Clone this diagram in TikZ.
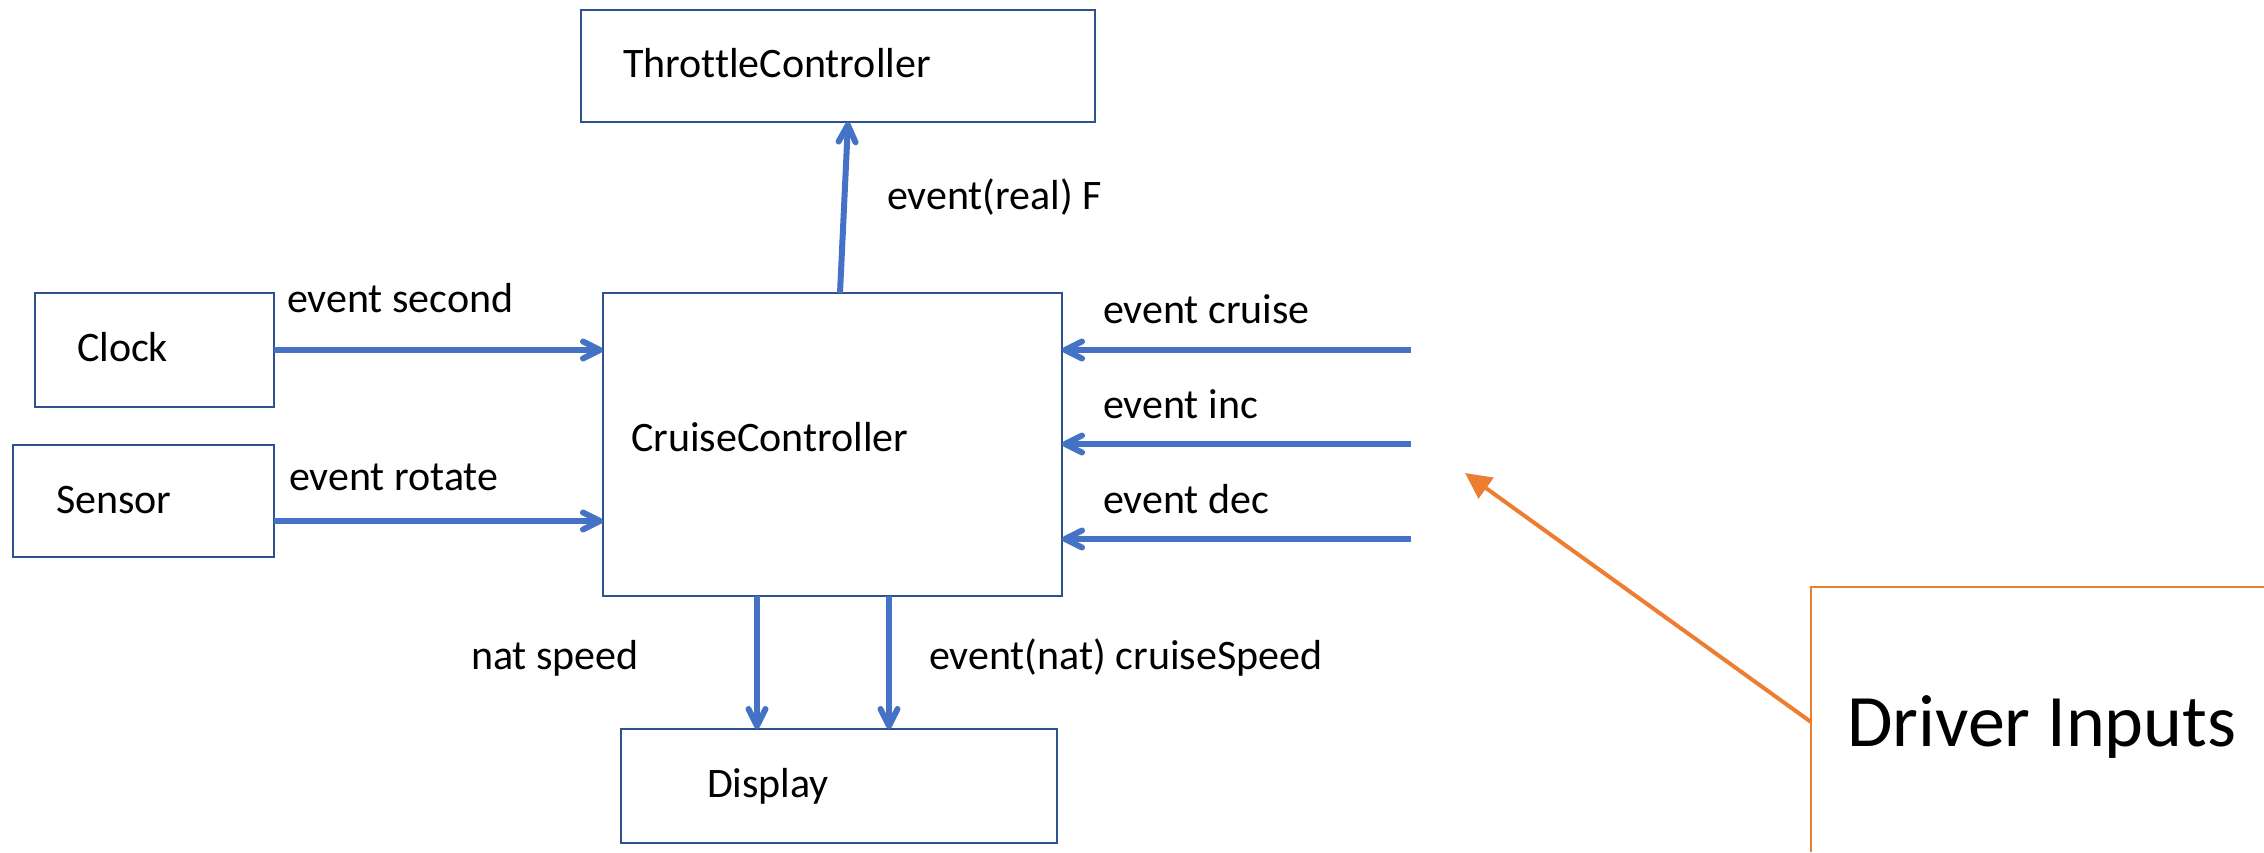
\documentclass[tikz,border=0pt]{standalone}
\usepackage{fontspec}
\setmainfont[Ligatures={NoCommon,NoContextual}]{Carlito}
\usetikzlibrary{arrows.meta,calc}
\definecolor{boxblue}{HTML}{2F528F}
\definecolor{arrblue}{HTML}{4472C4}
\definecolor{orng}{HTML}{ED7D31}
\tikzset{
  box/.style={draw=boxblue, line width=1.3pt, inner sep=0pt, outer sep=0pt, rectangle},
  lbl/.style={inner sep=0pt, outer sep=0pt, anchor=base west, font=\fontsize{21pt}{25pt}\selectfont},
  biglbl/.style={inner sep=0pt, outer sep=0pt, anchor=base west, font=\fontsize{37pt}{44pt}\selectfont},
  arr/.style={draw=arrblue, line width=3pt, -{Straight Barb[length=8.5pt,width=8.5pt,round]}},
  oarr/.style={draw=orng, line width=2pt, -{Triangle[length=13pt,width=12.5pt]}},
  oline/.style={draw=orng, line width=1.3pt},
}
\begin{document}
\begin{tikzpicture}[x=0.5pt,y=-0.5pt]
\useasboundingbox (0,0) rectangle (2264,852);
% boxes
\node[box, minimum width=257pt, minimum height=56pt] (tc) at (838,66) {};
\node[box, minimum width=119.5pt, minimum height=57pt] (clock) at (154.5,350) {};
\node[box, minimum width=130.5pt, minimum height=56pt] (sensor) at (143.5,501) {};
\node[box, minimum width=229.5pt, minimum height=151.5pt] (cc) at (832.5,444.5) {};
\node[box, minimum width=218pt, minimum height=57pt] (disp) at (839,786) {};
% box texts
\node[lbl] (tct) at (623,77) {ThrottleController};
\node[lbl] (clockt) at (77,361) {Clock};
\node[lbl] (sensort) at (56,513) {Sensor};
\node[lbl] (cct) at (631,451) {CruiseController};
\node[lbl] (dispt) at (707,797) {Display};
% connector labels
\node[lbl] (l1) at (287,312) {event second};
\node[lbl] (l2) at (289,490) {event rotate};
\node[lbl] (l3) at (887,209) {event(real) F};
\node[lbl] (l4) at (1103,323) {event cruise};
\node[lbl] (l5) at (1103,418) {event inc};
\node[lbl] (l6) at (1103,513) {event dec};
\node[lbl] (l7) at (471,669) {nat speed};
\node[lbl] (l8) at (929,669) {event(nat) cruiseSpeed};
% input coordinates
\coordinate (in1) at (1411,350);
\coordinate (in2) at (1411,444);
\coordinate (in3) at (1411,539);
% connectors
\draw[arr] (clock.east) -- (clock.east -| cc.west);
\draw[arr] ([yshift=-10pt]sensor.east) -- ([yshift=-10pt]sensor.east -| cc.west);
\draw[arr] (in1) -- (in1 -| cc.east);
\draw[arr] (in2) -- (in2 -| cc.east);
\draw[arr] (in3) -- (in3 -| cc.east);
\draw[arr] ([xshift=118.5pt]cc.north west) -- ([xshift=133.5pt]tc.south west);
\draw[arr] ([xshift=77pt]cc.south west) -- ([xshift=77pt]cc.south west |- disp.north);
\draw[arr] ([xshift=143pt]cc.south west) -- ([xshift=143pt]cc.south west |- disp.north);
% driver inputs callout
\coordinate (dtl) at (1811,587);
\coordinate (dtr) at (2264,587);
\coordinate (dbl) at (1811,852);
\coordinate (dstart) at (1811,722);
\coordinate (dtip) at (1465,473);
\draw[oline] (dtr) -- (dtl) -- (dbl);
\draw[oarr] (dstart) -- (dtip);
\node[biglbl] (dt) at (1847,746) {Driver Inputs};
\end{tikzpicture}
\end{document}
